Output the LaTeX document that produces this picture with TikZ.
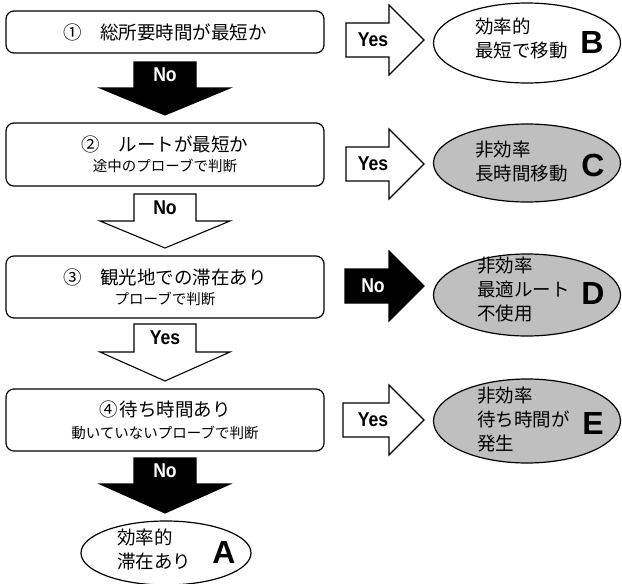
\documentclass[tikz,border=0pt]{standalone}
\usepackage{fontspec}
\setmainfont{Liberation Sans}
\newfontfamily\jp{Noto Sans CJK JP}
\usetikzlibrary{shapes.geometric}
\tikzset{
  box/.style={draw, line width=1.2pt, rounded corners=8pt, minimum width=318pt, inner sep=0pt, align=center},
  ell/.style={draw, ellipse, line width=1.2pt, inner sep=0pt},
  barrow/.style={draw, line width=1.1pt, line join=miter},
  lbl/.style={font=\bfseries\fontsize{20}{21}\selectfont, inner sep=0pt},
  etext/.style={font=\jp\fontsize{18.5}{24}\selectfont, align=left, inner sep=0pt, anchor=west},
  letter/.style={font=\bfseries\fontsize{32}{34}\selectfont, inner sep=0pt},
}
\newcommand\mainf{\jp\fontsize{18.5}{22}\selectfont}
\newcommand\subf{\jp\fontsize{14.5}{18}\selectfont}
% name, top, base, tip, fill, text colour, label
\newcommand\DownBlock[7]{%
  \draw[barrow,fill=#5] (134,#2) -- (196,#2) -- (196,#3) -- (230,#3) -- (165,#4) -- (100,#3) -- (134,#3) -- cycle;
  \node[lbl,text=#6] (#1) at (165,{(#2+#3)/2}) {\scalebox{0.88}[1]{#7}};
}
% name, y centre, x left, fill, text colour, label
\newcommand\RightBlock[6]{%
  \draw[barrow,fill=#4] (#3,{#2-17}) -- (389,{#2-17}) -- (389,{#2-35}) -- (424,#2) -- (389,{#2+35}) -- (389,{#2+17}) -- (#3,{#2+17}) -- cycle;
  \node[lbl,text=#5] (#1) at (373,#2) {\scalebox{0.88}[1]{#6}};
}
\begin{document}
\begin{tikzpicture}[x=1pt,y=-1pt]
\useasboundingbox (0,0) rectangle (622,584);

% boxes
\node[box, minimum height=42pt] (b1) at (165,32) {\mainf ①\quad 総所要時間が最短か};
\node[box, minimum height=63pt] (b2) at (165,154.5) {\mainf ②\quad ルートが最短か\\[5pt]\subf 途中のプローブで判断};
\node[box, minimum height=62pt] (b3) at (165,287) {\mainf ③\quad 観光地での滞在あり\\[5pt]\subf プローブで判断};
\node[box, minimum height=62pt] (b4) at (165,420) {\mainf ④\hspace{2pt}待ち時間あり\\[7pt]\subf 動いていないプローブで判断};

% down arrows
\DownBlock{n1}{62}{88}{115}{black}{white}{No}
\DownBlock{n2}{194}{221}{248}{white}{black}{No}
\DownBlock{n3}{324}{352}{381}{white}{black}{Yes}
\DownBlock{n4}{458}{484}{513}{black}{white}{No}

% right arrows
\RightBlock{y1}{40}{346}{white}{black}{Yes}
\RightBlock{y2}{164}{346}{white}{black}{Yes}
\RightBlock{y3}{286}{345}{black}{white}{No}
\RightBlock{y4}{420}{343}{white}{black}{Yes}

% ellipses
\node[ell, minimum width=187pt, minimum height=80pt] (eB) at (527,43) {};
\node[ell, fill=black!25, minimum width=187pt, minimum height=78pt] (eC) at (527,163) {};
\node[ell, fill=black!25, minimum width=187pt, minimum height=82pt] (eD) at (527,295) {};
\node[ell, fill=black!25, minimum width=187pt, minimum height=84pt] (eE) at (527,421) {};
\node[ell, minimum width=170pt, minimum height=64pt] (eA) at (166,553) {};

% ellipse texts
\node[etext] (tB) at (475,38.5) {効率的\\最短で移動};
\node[letter] (lB) at (592,42) {B};
\node[etext] (tC) at (475,161.5) {非効率\\長時間移動};
\node[letter] (lC) at (593,165) {C};
\node[etext] (tD) at (477,290) {非効率\\最適ルート\\不使用};
\node[letter] (lD) at (593,293) {D};
\node[etext] (tE) at (477,420) {非効率\\待ち時間が\\発生};
\node[letter] (lE) at (593,423) {E};
\node[etext] (tA) at (117,550) {効率的\\滞在あり};
\node[letter] (lA) at (224,552) {A};
\end{tikzpicture}
\end{document}
